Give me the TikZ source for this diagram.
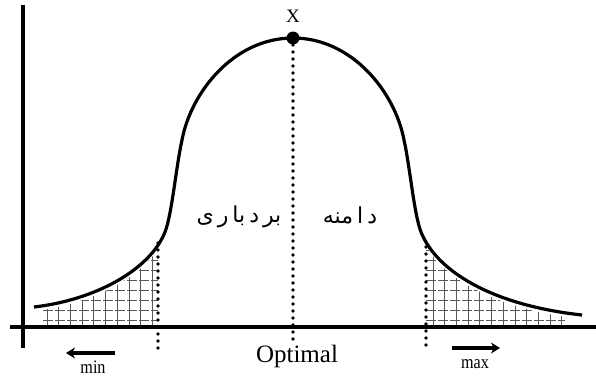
\documentclass[tikz,border=0pt]{standalone}
\usepackage{fontspec}
\setmainfont{Liberation Serif}
\newfontfamily\arabicfont[Script=Arabic]{DejaVu Sans}
\TeXXeTstate=1
\usetikzlibrary{arrows.meta}
\newcommand{\gp}{\hspace{4pt}}
\begin{document}
\begin{tikzpicture}[x=1pt,y=-1pt,
  axisline/.style={line width=3.2pt},
  curveline/.style={line width=3.2pt},
  dotline/.style={line width=3.9pt, dash pattern=on 0pt off 7pt, line cap=round},
  hatch/.style={gray!70!black, line width=0.7pt},
  dirarrow/.style={line width=3.2pt, -{Stealth[length=9pt,width=11pt]}},
  lbl/.style={inner sep=0pt, font=\fontsize{20}{22}\selectfont},
  fa/.style={inner sep=0pt, font=\arabicfont\fontsize{22}{26}\selectfont}]
\useasboundingbox (0,0) rectangle (596,378);
% hatching left
\begin{scope}
  \clip (34,311) .. controls (95,304) and (150,274) .. (165,236) .. controls (172,218) and (176,171) .. (182,144) -- (182,327) -- (34,327) -- cycle;
  \foreach \x in {47,58.7,...,158} \draw[hatch] (\x,327) -- (\x,230);
  \foreach \y in {320,310,...,230} \draw[hatch, dash pattern=on 10pt off 2pt] (43,\y) -- (158,\y);
\end{scope}
% hatching right
\begin{scope}
  \clip (404,144) .. controls (410,171) and (414,218) .. (421,236) .. controls (436,274) and (490,309) .. (582,319) -- (582,327) -- (404,327) -- cycle;
  \foreach \x in {433,444.7,...,565} \draw[hatch] (\x,327) -- (\x,230);
  \foreach \y in {320,310,...,230} \draw[hatch, dash pattern=on 10pt off 2pt] (426,\y) -- (565,\y);
\end{scope}
% axes
\coordinate (yb) at (23,348);
\coordinate (yt) at (23,5);
\coordinate (xl) at (10,327);
\coordinate (xr) at (596,327);
\draw[axisline] (yb) -- (yt);
\draw[axisline] (xl) -- (xr);
% curve
\coordinate (cs) at (34,307);
\coordinate (ce) at (582,315);
\node[circle, fill=black, inner sep=0pt, minimum size=13pt] (peak) at (293,38) {};
\draw[curveline] (cs) .. controls (95,300) and (150,270) .. (165,232)
  .. controls (172,214) and (176,167) .. (182,140)
  .. controls (191,92) and (234,38) .. (peak.center)
  .. controls (352,38) and (395,92) .. (404,140)
  .. controls (410,167) and (414,214) .. (421,232)
  .. controls (436,270) and (490,305) .. (ce);
% dotted lines
\coordinate (lt) at (158,243);
\coordinate (lb) at (158,349);
\coordinate (rt) at (426,247);
\coordinate (rb) at (426,349);
\coordinate (cb) at (293,342);
\draw[dotline] (lt) -- (lb);
\draw[dotline] (rt) -- (rb);
\draw[dotline] (peak.center) -- (cb);
% labels
\node[lbl, font=\fontsize{19}{20}\selectfont] (xlab) at (293,16) {X};
\node[lbl, font=\fontsize{25}{28}\selectfont] (opt) at (297,356) {Optimal};
\node[lbl, font=\fontsize{19}{20}\selectfont] (minl) at (93,367) {\scalebox{0.85}[1]{min}};
\node[lbl, font=\fontsize{19}{20}\selectfont] (maxl) at (475,364) {\scalebox{0.85}[1]{max}};
\coordinate (mina) at (115,353);
\coordinate (minb) at (66,353);
\coordinate (maxa) at (452,348);
\coordinate (maxb) at (500,348);
\draw[dirarrow] (mina) -- (minb);
\draw[dirarrow] (maxa) -- (maxb);
\node[fa] (fa1) at (239,217) {\beginR بر\gp د\gp با\gp ر\gp ی\endR};
\node[fa] (fa2) at (350,215) {\beginR د\gp ا\gp منه\endR};
\end{tikzpicture}
\end{document}
